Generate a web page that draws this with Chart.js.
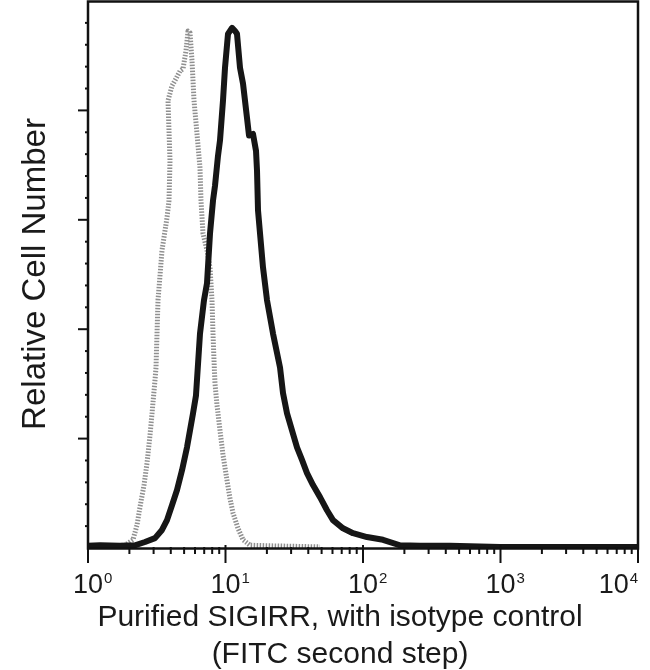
<!DOCTYPE html>
<html>
<head>
<meta charset="utf-8">
<script src="https://cdn.jsdelivr.net/npm/chart.js@4.4.0/dist/chart.umd.min.js"></script>
<style>
  html, body { margin: 0; padding: 0; background: #ffffff; }
  #wrap { width: 650px; height: 670px; }
</style>
</head>
<body>
<div id="wrap"><canvas id="c" width="650" height="670"></canvas></div>
<script>
// ---- Data (x = fluorescence intensity, y = relative cell number, % of max) ----
const sampleX = [1,1.223,1.709,2.197,2.597,3.071,3.452,3.755,4.082,4.440,4.827,5.248,5.518,5.802,6.101,6.524,6.976,7.336,7.714,8.111,8.386,8.820,9.120,9.590,9.917,10.43,11.15,11.73,12.12,12.75,13.41,14.34,14.83,15.85,16.67,16.95,17.24,18.74,20.04,22.16,24.92,26.20,28.02,30.45,33.11,36.01,39.15,43.29,48.68,54.72,60.50,71.54,84.60,106.9,139.8,185.8,259.7,429.3,991.7,2291,5291,10000];
const sampleY = [0.4,0.5,0.4,0.5,1.1,1.8,3.3,5.1,7.8,10.6,14.2,18.4,21.5,24.6,27.9,39.2,45.3,48.4,57.5,63.5,66.2,71.7,74.5,81.8,87.8,94.0,95.1,94.5,94.0,87.8,84.9,78.6,75.4,75.7,72.6,69.0,61.7,51.3,45.3,39.2,33.0,28.3,24.6,21.5,18.4,16.1,13.7,11.5,9.3,6.9,5.1,3.6,2.7,2.0,1.5,0.5,0.4,0.4,0.2,0.2,0.2,0.2];

const isotypeX = [1,1.445,1.858,2.125,2.272,2.389,2.555,2.686,2.824,2.921,3.071,3.123,3.229,3.339,3.452,3.631,3.755,3.882,3.948,3.882,3.818,4.082,4.365,4.668,4.909,5.161,5.337,5.518,5.706,5.901,6.205,6.524,6.634,6.861,7.336,7.714,7.977,8.111,8.249,8.386,8.674,9.120,9.590,10.25,10.78,11.34,12.33,13.41,15.08,21.07,48.68];
const isotypeY = [0.4,0.4,0.5,1.5,4.2,7.5,11.5,15.5,20.6,24.6,30.7,33.0,45.3,49.8,54.4,58.0,60.4,63.5,70.8,76.3,81.8,84.5,85.8,87.2,87.6,90.9,94.5,94.2,89.1,81.8,75.7,69.5,63.5,57.5,54.4,51.3,45.3,39.2,34.3,30.1,26.1,21.5,17.0,12.4,9.1,6.4,3.6,1.5,0.5,0.4,0.2];

const xMajorTicks = [1, 10, 100, 1000, 10000];
const xTickExponents = ['0', '1', '2', '3', '4'];
const xMinorTicks = [2,3,4,5,6,7,8,9,20,30,40,50,60,70,80,90,200,300,400,500,600,700,800,900,2000,3000,4000,5000,6000,7000,8000,9000];
const yMajorTicks = [20, 40, 60, 80];
const yMinorTicks = [4,8,12,16,24,28,32,36,44,48,52,56,64,68,72,76,84,88,92,96];

const yTitle = 'Relative Cell Number';
const xTitleLines = ['Purified SIGIRR, with isotype control', '(FITC second step)'];

const FONT = '"Liberation Sans", Arial, Helvetica, sans-serif';

const toPoints = (xs, ys) => xs.map((x, i) => ({ x: x, y: ys[i] }));

const decorations = {
  id: 'decorations',
  afterDatasetsDraw(chart) {
    const { ctx, chartArea: a, scales } = chart;
    const xs = scales.x, ys = scales.y;
    ctx.save();
    ctx.strokeStyle = '#111';
    ctx.lineCap = 'butt';
    // frame
    ctx.lineWidth = 2.5;
    ctx.strokeRect(a.left, a.top + 0.5, a.right - a.left, a.bottom - a.top);
    // x ticks
    ctx.lineWidth = 2;
    xMinorTicks.forEach(v => {
      const p = xs.getPixelForValue(v);
      ctx.beginPath(); ctx.moveTo(p, a.bottom - 1); ctx.lineTo(p, a.bottom + 6); ctx.stroke();
    });
    xMajorTicks.forEach(v => {
      const p = xs.getPixelForValue(v);
      ctx.beginPath(); ctx.moveTo(p, a.bottom - 3); ctx.lineTo(p, a.bottom + 15); ctx.stroke();
    });
    // y ticks
    yMinorTicks.forEach(v => {
      const p = ys.getPixelForValue(v);
      ctx.beginPath(); ctx.moveTo(a.left - 3, p); ctx.lineTo(a.left + 1, p); ctx.stroke();
    });
    yMajorTicks.forEach(v => {
      const p = ys.getPixelForValue(v);
      ctx.beginPath(); ctx.moveTo(a.left - 10, p); ctx.lineTo(a.left + 1, p); ctx.stroke();
    });
    // x tick labels (10 with superscript exponent)
    ctx.fillStyle = '#1a1a1a';
    ctx.textBaseline = 'alphabetic';
    ctx.textAlign = 'left';
    xMajorTicks.forEach((v, i) => {
      const p = xs.getPixelForValue(v);
      ctx.font = '27px ' + FONT;
      const w10 = ctx.measureText('10').width;
      ctx.font = '15px ' + FONT;
      const wSup = ctx.measureText(xTickExponents[i]).width;
      let left = p - w10 / 2;
      if (left + w10 + wSup + 1 > a.right) left = a.right - w10 - wSup - 1;
      ctx.font = '27px ' + FONT;
      ctx.fillText('10', left, 593);
      ctx.font = '15px ' + FONT;
      ctx.fillText(xTickExponents[i], left + w10 + 1, 583);
    });
    // axis titles
    ctx.textAlign = 'center';
    ctx.textBaseline = 'middle';
    ctx.font = '30px ' + FONT;
    ctx.fillText(xTitleLines[0], 340, 618);
    ctx.fillText(xTitleLines[1], 340, 655);
    ctx.save();
    ctx.translate(36, 274);
    ctx.rotate(-Math.PI / 2);
    ctx.font = '33px ' + FONT;
    ctx.fillText(yTitle, 0, 0);
    ctx.restore();
    ctx.restore();
  }
};

new Chart(document.getElementById('c'), {
  type: 'line',
  data: {
    datasets: [
      {
        label: 'SIGIRR',
        data: toPoints(sampleX, sampleY),
        borderColor: '#161616',
        borderWidth: 6,
        pointRadius: 0,
        tension: 0,
        borderJoinStyle: 'round',
        borderCapStyle: 'round',
        fill: false,
        order: 0
      },
      {
        label: 'Isotype control',
        data: toPoints(isotypeX, isotypeY),
        borderColor: '#909090',
        borderWidth: 5,
        borderDash: [1.5, 1.5],
        pointRadius: 0,
        tension: 0,
        borderJoinStyle: 'round',
        fill: false,
        order: 1
      }
    ]
  },
  options: {
    responsive: false,
    animation: false,
    layout: { padding: { left: 88, right: 12, top: 1, bottom: 122 } },
    plugins: { legend: { display: false }, tooltip: { enabled: false } },
    scales: {
      x: { type: 'logarithmic', min: 1, max: 10000, display: false },
      y: { type: 'linear', min: 0, max: 100, display: false }
    }
  },
  plugins: [decorations]
});
</script>
</body>
</html>
